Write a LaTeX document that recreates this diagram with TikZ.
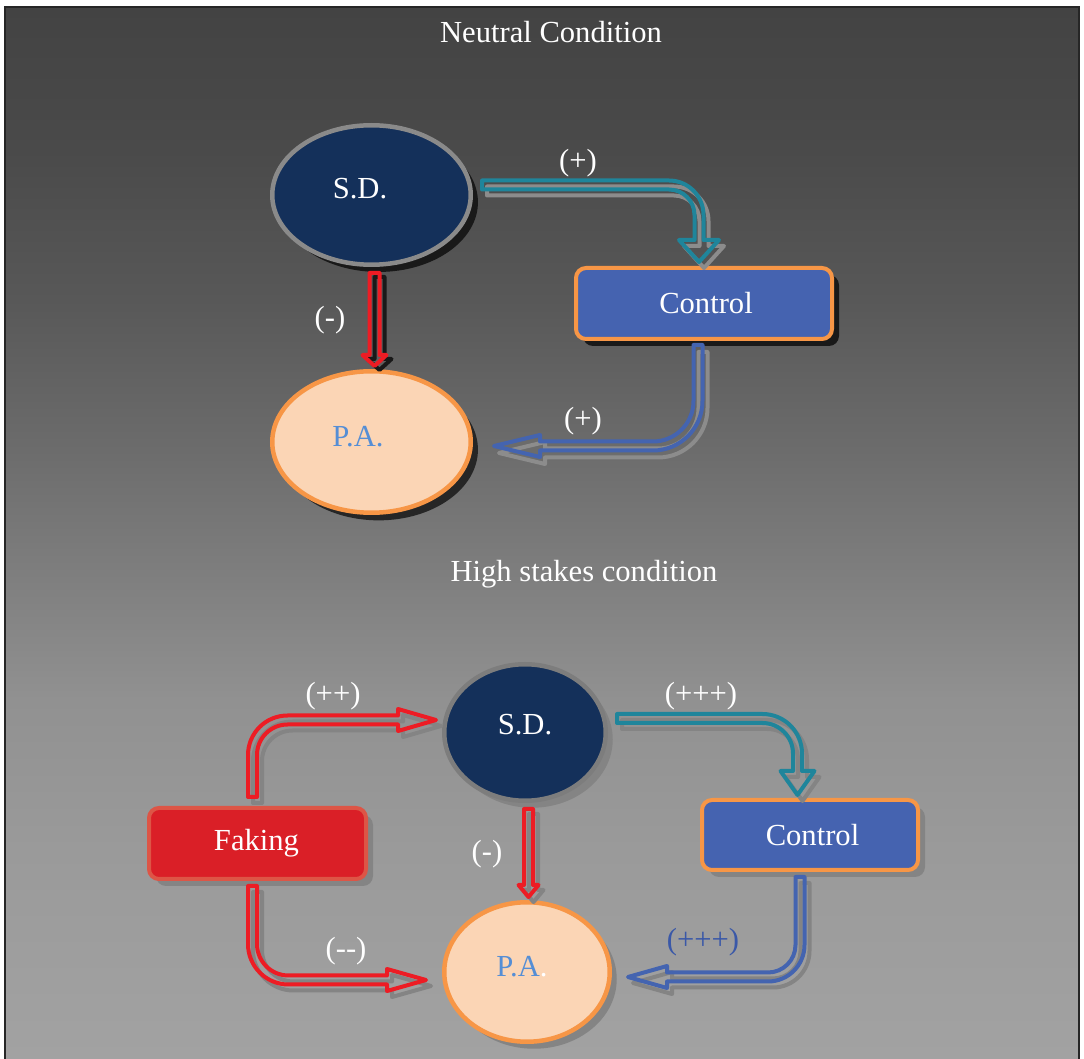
\documentclass[tikz,border=0pt]{standalone}
\usepackage{fontspec}
\setmainfont{Liberation Serif}
\usetikzlibrary{shapes.geometric,shadows,calc}
\definecolor{g1}{RGB}{67,67,67}
\definecolor{g2}{RGB}{74,74,74}
\definecolor{g3}{RGB}{88,88,88}
\definecolor{g4}{RGB}{108,108,108}
\definecolor{g5}{RGB}{130,130,130}
\definecolor{g6}{RGB}{145,145,145}
\definecolor{g7}{RGB}{154,154,154}
\definecolor{g8}{RGB}{162,162,162}
\pgfdeclareverticalshading{bgshade}{100bp}{color(0bp)=(g8); color(25bp)=(g8); color(34.93bp)=(g7); color(42.06bp)=(g6); color(46.82bp)=(g5); color(53.94bp)=(g4); color(61.07bp)=(g3); color(68.2bp)=(g2); color(75bp)=(g1); color(100bp)=(g1)}
\definecolor{navy}{RGB}{20,48,90}
\definecolor{sdgray}{RGB}{138,138,138}
\definecolor{sdgrayb}{RGB}{125,125,125}
\definecolor{ctrlfill}{RGB}{69,99,176}
\definecolor{orangeb}{RGB}{247,150,70}
\definecolor{peach}{RGB}{251,213,181}
\definecolor{patext}{RGB}{85,142,213}
\definecolor{arrred}{RGB}{237,28,36}
\definecolor{arrteal}{RGB}{31,133,155}
\definecolor{arrblue}{RGB}{68,100,176}
\definecolor{fakefill}{RGB}{218,31,39}
\definecolor{fakeborder}{RGB}{221,85,70}
\definecolor{plusblue}{RGB}{58,88,168}
\definecolor{shadowtop}{RGB}{140,140,140}
\definecolor{shadowbot}{RGB}{132,132,132}
\tikzset{
  txt/.style={text=white, font=\fontsize{15.3}{18}\selectfont, inner sep=0pt, anchor=base},
  ell/.style={ellipse, inner sep=0pt, line width=2.25pt},
  blk/.style={rectangle, rounded corners=5pt, inner sep=0pt, line width=2pt},
  harrow/.style={line width=2pt, line join=round},
  pA/.style={insert path={(482,180.5) -- (669,180.5) arc[start angle=-90,end angle=0,radius=34.5] -- (703.5,240) -- (719,240) -- (699,262) -- (679,240) -- (694.5,240) -- (694.5,215) arc[start angle=0,end angle=-90,radius=25.5] -- (482,189.5) -- cycle}},
  pB/.style={insert path={(369.5,273) -- (369.5,355) -- (362.5,355) -- (374.5,366) -- (386.5,355) -- (379.5,355) -- (379.5,273) -- cycle}},
  pC/.style={insert path={(693.5,345) -- (702.5,345) -- (702.5,401) arc[start angle=0,end angle=90,radius=49.5] -- (540,450.5) -- (540,457) -- (494,446) -- (540,435) -- (540,441.5) -- (653,441.5) arc[start angle=90,end angle=0,radius=40.5] -- cycle}},
  pD/.style={insert path={(248,797) -- (248,755) arc[start angle=180,end angle=270,radius=39.5] -- (398,715.5) -- (398,709) -- (436,720) -- (398,731) -- (398,724.5) -- (287.5,724.5) arc[start angle=270,end angle=180,radius=30.5] -- (257,797) -- cycle}},
  pE/.style={insert path={(524,809) -- (524,885) -- (518.5,885) -- (528.5,897) -- (538.5,885) -- (533,885) -- (533,809) -- cycle}},
  pF/.style={insert path={(617,714) -- (762.5,714) arc[start angle=-90,end angle=0,radius=39.5] -- (802,771) -- (814.5,771) -- (797.5,795) -- (780.5,771) -- (793,771) -- (793,753.5) arc[start angle=0,end angle=-90,radius=30.5] -- (617,723) -- cycle}},
  pG/.style={insert path={(795.5,877) -- (804.5,877) -- (804.5,945) arc[start angle=0,end angle=90,radius=36.5] -- (667,981.5) -- (667,988) -- (628,977) -- (667,966) -- (667,972.5) -- (768,972.5) arc[start angle=90,end angle=0,radius=27.5] -- cycle}},
  pH/.style={insert path={(257,886) -- (248,886) -- (248,944) arc[start angle=180,end angle=90,radius=40.5] -- (387,984.5) -- (387,991) -- (426,980) -- (387,969) -- (387,975.5) -- (288.5,975.5) arc[start angle=90,end angle=180,radius=31.5] -- cycle}},
}
\begin{document}
\begin{tikzpicture}[x=0.5pt,y=-0.5pt]
\fill[white] (0,0) rectangle (1084,1059);
\useasboundingbox (0,0) rectangle (1084,1059);
\shade[shading=bgshade] (5,7) rectangle (1078.5,1059);
\draw[line width=1pt, black!85] (5,1059) -- (5,7) -- (1078.5,7) -- (1078.5,1059);

% titles
\node[txt] (t1) at (551,43) {Neutral Condition};
\node[txt] (t2) at (584,582) {High stakes condition};

% ---- Neutral condition ----
\node[ell, draw=sdgray, fill=navy, minimum width=99.25pt, minimum height=69.75pt,
      drop shadow={shadow xshift=3.6pt, shadow yshift=-3.6pt, fill=black!90, opacity=1}] (sd1) at (371.5,195) {};
\node[txt] (sd1t) at (360,199) {S.D.};
\node[blk, draw=orangeb, fill=ctrlfill, minimum width=128pt, minimum height=35.5pt,
      drop shadow={shadow xshift=3.5pt, shadow yshift=-3.5pt, fill=black!90, opacity=1}] (c1) at (704,303.5) {};
\node[txt] (c1t) at (706,314) {Control};
\node[ell, draw=orangeb, fill=peach, minimum width=99.25pt, minimum height=70.75pt,
      drop shadow={shadow xshift=3.6pt, shadow yshift=-3.8pt, fill=black!85, opacity=1}] (pa1) at (371.5,442) {};
\node[txt, text=patext] (pa1t) at (358,447) {P.A.};

% arrows (shadows first)
\draw[harrow, draw=shadowtop, shift={(5,6)}, pA];
\draw[harrow, draw=arrteal, pA];
\draw[harrow, draw=black!90, shift={(5,4)}, pB];
\draw[harrow, draw=arrred, pB];
\draw[harrow, draw=shadowtop, shift={(5,7)}, pC];
\draw[harrow, draw=arrblue, pC];

\node[txt] (l1) at (578,171) {(+)};
\node[txt] (l2) at (330,328) {(-)};
\node[txt] (l3) at (583,429) {(+)};

% ---- High stakes condition ----
\node[ell, draw=sdgrayb, fill=navy, minimum width=80.75pt, minimum height=68.25pt,
      drop shadow={shadow xshift=3.5pt, shadow yshift=-3.5pt, fill=shadowbot, opacity=1}] (sd2) at (525,732.5) {};
\node[txt] (sd2t) at (525,735) {S.D.};
\node[blk, draw=fakeborder, fill=fakefill, minimum width=108.5pt, minimum height=35.5pt,
      drop shadow={shadow xshift=3.5pt, shadow yshift=-3.5pt, fill=shadowbot, opacity=1}] (fk) at (257.5,843.5) {};
\node[txt] (fkt) at (256.5,851) {Faking};
\node[blk, draw=orangeb, fill=ctrlfill, minimum width=108pt, minimum height=35pt,
      drop shadow={shadow xshift=3.5pt, shadow yshift=-3.5pt, fill=shadowbot, opacity=1}] (c2) at (810,835) {};
\node[txt] (c2t) at (812.5,846) {Control};
\node[ell, draw=orangeb, fill=peach, minimum width=82.75pt, minimum height=69.75pt,
      drop shadow={shadow xshift=3.5pt, shadow yshift=-3.5pt, fill=shadowbot, opacity=1}] (pa2) at (527,972) {};
\node[txt] (pa2t) at (522,977) {{\color{patext}P.A}.};

\draw[harrow, draw=shadowbot, shift={(5,6)}, pD];
\draw[harrow, draw=arrred, pD];
\draw[harrow, draw=shadowbot, shift={(5,5)}, pE];
\draw[harrow, draw=arrred, pE];
\draw[harrow, draw=shadowbot, shift={(5,6)}, pF];
\draw[harrow, draw=arrteal, pF];
\draw[harrow, draw=shadowbot, shift={(5,6)}, pG];
\draw[harrow, draw=arrblue, pG];
\draw[harrow, draw=shadowbot, shift={(5,6)}, pH];
\draw[harrow, draw=arrred, pH];

\node[txt] (l4) at (333,704) {(++)};
\node[txt] (l5) at (701,704) {(+++)};
\node[txt] (l6) at (487,862) {(-)};
\node[txt] (l7) at (346,958) {(-{}-)};
\node[txt, text=plusblue] (l8) at (703,950) {(+++)};
\end{tikzpicture}
\end{document}
